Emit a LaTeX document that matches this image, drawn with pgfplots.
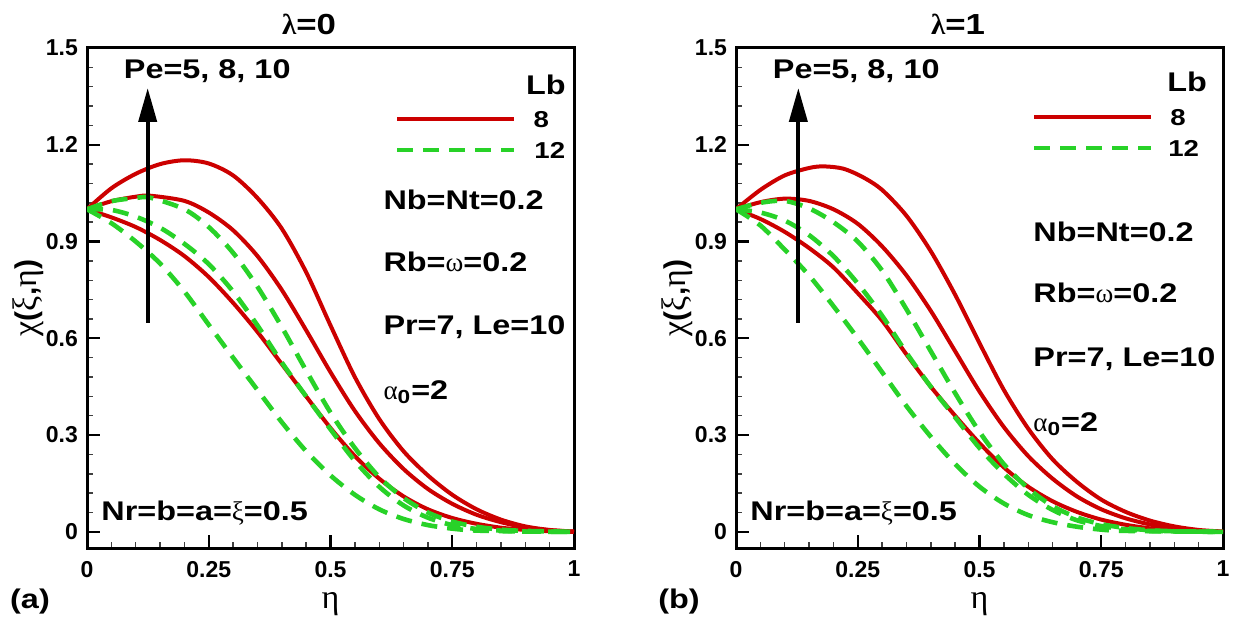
\documentclass[border=0pt]{standalone}
\usepackage{fontspec}
\setmainfont{Liberation Sans}
\newfontfamily\annfont{Liberation Sans}[FakeStretch=1.2]
\newfontfamily\grk{Liberation Serif}
\usepackage{pgfplots}
\pgfplotsset{compat=1.18}
\usetikzlibrary{arrows.meta}
\definecolor{myred}{RGB}{204,0,0}
\definecolor{mygreen}{RGB}{40,210,40}
\newcommand{\ann}{\annfont\bfseries\fontsize{13.5}{16}\selectfont}
\newcommand{\lab}{\annfont\bfseries\fontsize{11.5}{14}\selectfont}
\tikzset{
  ann/.style={anchor=base west, inner sep=0, yshift=-4.83pt, font=\ann},
  lab/.style={anchor=base west, inner sep=0, yshift=-4.1pt, font=\lab},
}
\pgfplotsset{
  panel/.style={
    scale only axis, width=243.5pt, height=250pt,
    xmin=0, xmax=1, ymin=-0.05, ymax=1.5,
    xtick={0,0.25,0.5,0.75,1}, xticklabels={0,0.25,0.5,0.75,1},
    ytick={0,0.3,0.6,0.9,1.2,1.5}, yticklabels={0,0.3,0.6,0.9,1.2,1.5},
    minor x tick num=4, minor y tick num=4,
    tick align=inside, xtick pos=bottom, ytick pos=left,
    major tick length=6.5pt, minor tick length=3.2pt,
    every major tick/.style={black, line width=1.1pt},
    every minor tick/.style={black!75, line width=0.7pt},
    axis line style={line width=1.5pt},
    tick label style={font=\bfseries\fontsize{11.5}{13}\selectfont},
    xticklabel style={yshift=-3pt},
    yticklabel style={xshift=-1pt},
    clip mode=individual,
  },
  redl/.style={myred, line width=2pt, smooth, tension=0.5},
  grnl/.style={mygreen, line width=2.3pt, dash pattern=on 8pt off 5pt, smooth, tension=0.5},
}
\newcommand{\ylab}{{\grk\fontsize{17}{19}\selectfont χ}{\bfseries\fontsize{15}{17}\selectfont(}{\grk\fontsize{17}{19}\selectfont ξ}{\bfseries\fontsize{15}{17}\selectfont,}{\grk\fontsize{17}{19}\selectfont η}{\bfseries\fontsize{15}{17}\selectfont)}}
\begin{document}
\begin{tikzpicture}
\useasboundingbox (0,0) rectangle (618pt,310.5pt);
% ---------------- panel (a)
\begin{axis}[panel, at={(43.5pt,36.5pt)}, anchor=south west]
\addplot[redl] coordinates {(0,1.0)(0.05,1.065)(0.1,1.11)(0.15,1.14)(0.2,1.152)(0.25,1.142)(0.3,1.105)(0.35,1.035)(0.4,0.94)(0.45,0.805)(0.5,0.64)(0.55,0.48)(0.6,0.35)(0.65,0.25)(0.7,0.175)(0.75,0.115)(0.8,0.07)(0.85,0.038)(0.9,0.017)(0.95,0.006)(1,0.001)};
\addplot[redl] coordinates {(0,1.0)(0.05,1.025)(0.1,1.039)(0.13,1.042)(0.2,1.026)(0.25,0.99)(0.3,0.935)(0.35,0.855)(0.4,0.75)(0.45,0.625)(0.5,0.495)(0.55,0.375)(0.6,0.275)(0.65,0.195)(0.7,0.133)(0.75,0.087)(0.8,0.053)(0.85,0.03)(0.9,0.014)(0.95,0.005)(1,0.001)};
\addplot[redl] coordinates {(0,1.0)(0.05,0.975)(0.1,0.945)(0.15,0.905)(0.2,0.855)(0.25,0.79)(0.3,0.71)(0.35,0.62)(0.4,0.52)(0.45,0.42)(0.5,0.322)(0.55,0.235)(0.6,0.165)(0.65,0.11)(0.7,0.07)(0.75,0.043)(0.8,0.025)(0.85,0.013)(0.9,0.006)(0.95,0.002)(1,0.0)};
\addplot[grnl] coordinates {(0,1.0)(0.05,1.025)(0.1,1.035)(0.13,1.036)(0.2,1.0)(0.25,0.945)(0.3,0.865)(0.35,0.76)(0.4,0.635)(0.45,0.5)(0.5,0.37)(0.55,0.26)(0.6,0.17)(0.65,0.105)(0.7,0.06)(0.75,0.032)(0.8,0.016)(0.85,0.007)(0.9,0.003)(1,0)};
\addplot[grnl] coordinates {(0,1.0)(0.05,0.998)(0.1,0.977)(0.15,0.943)(0.2,0.893)(0.25,0.83)(0.3,0.745)(0.35,0.64)(0.4,0.525)(0.45,0.42)(0.5,0.318)(0.55,0.22)(0.6,0.14)(0.65,0.082)(0.7,0.044)(0.75,0.021)(0.8,0.009)(0.85,0.004)(0.9,0.001)(1,0)};
\addplot[grnl] coordinates {(0,1.0)(0.05,0.957)(0.1,0.9)(0.15,0.832)(0.2,0.745)(0.25,0.642)(0.3,0.54)(0.35,0.44)(0.4,0.34)(0.45,0.25)(0.5,0.175)(0.55,0.115)(0.6,0.07)(0.65,0.04)(0.7,0.021)(0.75,0.01)(0.8,0.004)(0.9,0.001)(1,0)};
\draw[line width=2pt, -{Triangle[length=17pt,width=9pt]}] (axis cs:0.1246,0.648) -- (axis cs:0.1246,1.376);
\node[ann] at (axis cs:0.075,1.435) {Pe=5, 8, 10};
\node[ann] at (axis cs:0.901,1.385) {Lb};
\draw[myred, line width=2pt] (axis cs:0.6366,1.28) -- (axis cs:0.8768,1.28);
\draw[mygreen, line width=2.3pt, dash pattern=on 8pt off 5pt] (axis cs:0.6366,1.184) -- (axis cs:0.8768,1.184);
\node[lab] at (axis cs:0.916,1.28) {8};
\node[lab] at (axis cs:0.918,1.184) {12};
\node[ann] at (axis cs:0.608,1.029) {Nb=Nt=0.2};
\node[ann] at (axis cs:0.608,0.837) {Rb={\grk\mdseries ω}=0.2};
\node[ann] at (axis cs:0.608,0.641) {Pr=7, Le=10};
\node[ann] at (axis cs:0.608,0.44) {{\grk\mdseries α}\textsubscript{0}=2};
\node[ann] at (axis cs:0.0287,0.065) {Nr=b=a={\grk\mdseries ξ}=0.5};
\node[font=\annfont\bfseries\fontsize{14.5}{17}\selectfont] at ([yshift=12pt]axis description cs:0.456,1) {{\grk\bfseries λ}=0};
\node[font=\grk\fontsize{17}{19}\selectfont, inner sep=0] at ([yshift=-28pt]axis description cs:0.5,0) {η};
\node[rotate=90, inner sep=0] at ([xshift=-29.5pt]axis description cs:0,0.5) {\ylab};
\node[font=\ann] at ([xshift=-28.5pt, yshift=-27pt]axis description cs:0,0) {(a)};
\end{axis}
% ---------------- panel (b)
\begin{axis}[panel, at={(368pt,36.5pt)}, anchor=south west]
\addplot[redl] coordinates {(0,1.0)(0.05,1.06)(0.1,1.105)(0.15,1.128)(0.18,1.133)(0.22,1.126)(0.26,1.1)(0.3,1.06)(0.35,0.98)(0.4,0.87)(0.45,0.735)(0.5,0.585)(0.55,0.44)(0.6,0.32)(0.65,0.225)(0.7,0.155)(0.75,0.1)(0.8,0.062)(0.85,0.035)(0.9,0.017)(0.95,0.006)(1,0.001)};
\addplot[redl] coordinates {(0,1.0)(0.05,1.022)(0.1,1.033)(0.15,1.026)(0.2,1.0)(0.25,0.955)(0.3,0.885)(0.35,0.795)(0.4,0.685)(0.45,0.56)(0.5,0.435)(0.55,0.325)(0.6,0.235)(0.65,0.165)(0.7,0.11)(0.75,0.07)(0.8,0.042)(0.85,0.023)(0.9,0.01)(0.95,0.003)(1,0)};
\addplot[redl] coordinates {(0,1.0)(0.05,0.97)(0.1,0.93)(0.15,0.88)(0.2,0.82)(0.25,0.74)(0.3,0.655)(0.35,0.55)(0.4,0.45)(0.45,0.36)(0.5,0.275)(0.55,0.2)(0.6,0.14)(0.65,0.095)(0.7,0.062)(0.75,0.038)(0.8,0.022)(0.85,0.011)(0.9,0.005)(0.95,0.002)(1,0)};
\addplot[grnl] coordinates {(0,1.0)(0.05,1.02)(0.1,1.026)(0.15,1.003)(0.2,0.96)(0.25,0.9)(0.3,0.81)(0.35,0.69)(0.4,0.56)(0.45,0.43)(0.5,0.31)(0.55,0.21)(0.6,0.135)(0.65,0.08)(0.7,0.045)(0.75,0.024)(0.8,0.012)(0.85,0.005)(0.9,0.002)(1,0)};
\addplot[grnl] coordinates {(0,1.0)(0.05,0.99)(0.1,0.965)(0.15,0.92)(0.2,0.855)(0.25,0.77)(0.3,0.67)(0.35,0.555)(0.4,0.45)(0.45,0.355)(0.5,0.26)(0.55,0.18)(0.6,0.115)(0.65,0.068)(0.7,0.036)(0.75,0.018)(0.8,0.008)(0.85,0.003)(1,0)};
\addplot[grnl] coordinates {(0,1.0)(0.05,0.95)(0.1,0.875)(0.15,0.795)(0.2,0.7)(0.25,0.6)(0.3,0.495)(0.35,0.39)(0.4,0.295)(0.45,0.21)(0.5,0.14)(0.55,0.088)(0.6,0.052)(0.65,0.03)(0.7,0.016)(0.75,0.007)(0.8,0.003)(1,0)};
\draw[line width=2pt, -{Triangle[length=17pt,width=9pt]}] (axis cs:0.128,0.648) -- (axis cs:0.128,1.376);
\node[ann] at (axis cs:0.075,1.435) {Pe=5, 8, 10};
\node[ann] at (axis cs:0.885,1.394) {Lb};
\draw[myred, line width=2pt] (axis cs:0.612,1.286) -- (axis cs:0.852,1.286);
\draw[mygreen, line width=2.3pt, dash pattern=on 8pt off 5pt] (axis cs:0.612,1.19) -- (axis cs:0.852,1.19);
\node[lab] at (axis cs:0.891,1.286) {8};
\node[lab] at (axis cs:0.887,1.19) {12};
\node[ann] at (axis cs:0.61,0.93) {Nb=Nt=0.2};
\node[ann] at (axis cs:0.61,0.741) {Rb={\grk\mdseries ω}=0.2};
\node[ann] at (axis cs:0.61,0.542) {Pr=7, Le=10};
\node[ann] at (axis cs:0.61,0.341) {{\grk\mdseries α}\textsubscript{0}=2};
\node[ann] at (axis cs:0.0287,0.065) {Nr=b=a={\grk\mdseries ξ}=0.5};
\node[font=\annfont\bfseries\fontsize{14.5}{17}\selectfont] at ([yshift=12pt]axis description cs:0.456,1) {{\grk\bfseries λ}=1};
\node[font=\grk\fontsize{17}{19}\selectfont, inner sep=0] at ([yshift=-28pt]axis description cs:0.5,0) {η};
\node[rotate=90, inner sep=0] at ([xshift=-29.5pt]axis description cs:0,0.5) {\ylab};
\node[font=\ann] at ([xshift=-28.5pt, yshift=-27pt]axis description cs:0,0) {(b)};
\end{axis}
\end{tikzpicture}
\end{document}
